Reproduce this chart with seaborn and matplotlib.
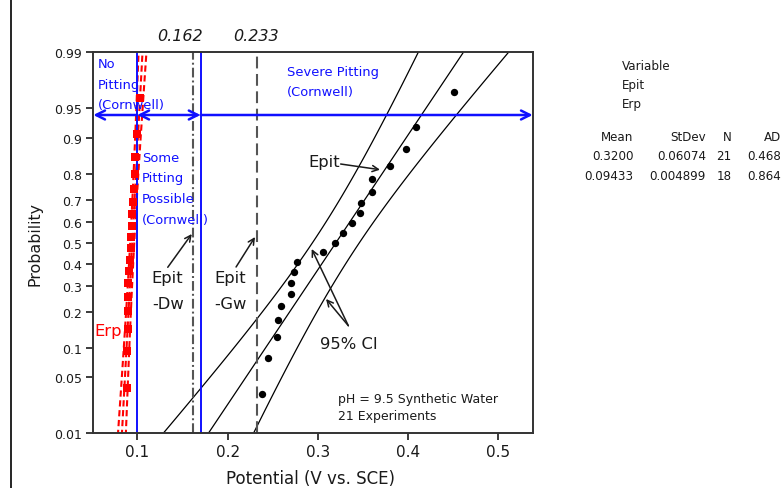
from statistics import NormalDist

import numpy as np
import pandas as pd
import matplotlib
matplotlib.use("Agg")
import matplotlib.pyplot as plt
from matplotlib.lines import Line2D
import seaborn as sns

# Ordered pitting potentials Epit (V vs. SCE), 21 experiments
epit_values = [0.238, 0.245, 0.2545, 0.256, 0.259, 0.270, 0.270, 0.2735, 0.277,
               0.306, 0.3187, 0.328, 0.338, 0.3465, 0.348, 0.3605, 0.3605,
               0.380, 0.398, 0.409, 0.4505]
# Ordered repassivation potentials Erp (V vs. SCE), 18 experiments
erp_values = [0.0885, 0.0888, 0.0892, 0.0894, 0.0896, 0.0900, 0.0908, 0.0922,
              0.0930, 0.0935, 0.0940, 0.0946, 0.0955, 0.0962, 0.0970, 0.0978,
              0.0998, 0.1024]

# Normal fit summary for each variable
variables = ["Epit", "Erp"]
means = [0.3200, 0.09433]
stdevs = [0.06074, 0.004899]
counts = [21, 18]
ad_values = [0.468, 0.864]

# Reference potentials
cornwell_limits = [0.10, 0.17]
epit_dw = 0.162
epit_gw = 0.233

prob_ticks = [0.01, 0.05, 0.1, 0.2, 0.3, 0.4, 0.5, 0.6, 0.7, 0.8, 0.9, 0.95, 0.99]
x_ticks = [0.1, 0.2, 0.3, 0.4, 0.5]

W, H = 782, 489
BLUE = "#1010ff"
INK = "#1a1a1a"
GREY = "#555555"

sns.set_theme(style="ticks")
plt.rcParams["font.family"] = ["DejaVu Sans"]
plt.rcParams["lines.scale_dashes"] = False

nd = NormalDist()


def zq(p):
    """Normal quantile: the probability axis is drawn in z units."""
    return nd.inv_cdf(p)


def plot_positions(n):
    # median-rank plotting positions
    return [zq((i - 0.3) / (n + 0.4)) for i in range(1, n + 1)]


fig = plt.figure(figsize=(W / 100, H / 100), dpi=100)
ax = fig.add_axes([93.3 / W, 1 - 434.3 / H, 439.4 / W, 381 / H])

# fitted lines with 95% confidence bands for the percentiles
zgrid = np.linspace(-2.6, 2.6, 81)
line_styles = {"Epit": dict(color="black", lw=0.9, linestyle="-"),
               "Erp": dict(color="red", lw=1.5, linestyle=(0, (4.5, 2.6)))}
for var, m, s, n in zip(variables, means, stdevs, counts):
    half = 1.96 * s * np.sqrt(1 / n + zgrid ** 2 / (2 * n))
    for curve in (m + s * zgrid, m + s * zgrid - half, m + s * zgrid + half):
        sns.lineplot(x=curve, y=zgrid, sort=False, estimator=None, ax=ax,
                     **line_styles[var])

pts = pd.DataFrame({
    "potential": epit_values + erp_values,
    "z": plot_positions(len(epit_values)) + plot_positions(len(erp_values)),
    "variable": ["Epit"] * len(epit_values) + ["Erp"] * len(erp_values),
})
sns.scatterplot(data=pts[pts.variable == "Erp"], x="potential", y="z",
                color="red", marker="s", s=40, linewidth=0, ax=ax, zorder=3)
sns.scatterplot(data=pts[pts.variable == "Epit"], x="potential", y="z",
                color="black", marker="o", s=28, linewidth=0, ax=ax, zorder=3)

# reference lines
for xv in cornwell_limits:
    ax.axvline(xv, color=BLUE, lw=1.4, zorder=2)
ax.axvline(epit_dw, color=GREY, lw=1.5, linestyle=(0, (7, 2.2, 1.4, 2.2)), zorder=2)
ax.axvline(epit_gw, color=GREY, lw=1.5, linestyle=(0, (8.5, 4)), zorder=2)

xlo, xhi = 0.0512, 0.5381
ax.set_xlim(xlo, xhi)
ax.set_ylim(zq(0.01), zq(0.99))

# region arrows
ya = zq(0.9407)
arrow_kw = dict(color=BLUE, lw=1.8, mutation_scale=16, shrinkA=0, shrinkB=0)
ax.annotate("", xy=(xlo, ya), xytext=(cornwell_limits[0], ya),
            arrowprops=dict(arrowstyle="->", **arrow_kw))
ax.annotate("", xy=(cornwell_limits[1], ya), xytext=(cornwell_limits[0], ya),
            arrowprops=dict(arrowstyle="<->", **arrow_kw))
ax.annotate("", xy=(xhi, ya), xytext=(cornwell_limits[1], ya),
            arrowprops=dict(arrowstyle="->", **arrow_kw))


def stack(x, p, lines, dy_px, **kw):
    for k, line in enumerate(lines):
        ax.annotate(line, xy=(x, zq(p)), xytext=(0, -k * dy_px * 0.72),
                    textcoords="offset points", ha="left", va="center", **kw)


blue_kw = dict(color=BLUE, fontsize=9.4)
stack(0.0561, 0.9855, ["No", "Pitting", "(Cornwell)"], 20.5, **blue_kw)
stack(0.1049, 0.8526, ["Some", "Pitting", "Possible", "(Cornwell)"], 20.7, **blue_kw)
stack(0.2655, 0.9817, ["Severe Pitting", "(Cornwell)"], 20.0, **blue_kw)

ink_kw = dict(color=INK, fontsize=11.8)
stack(0.1160, 0.3368, ["Epit", "-Dw"], 26.7, **ink_kw)
stack(0.1850, 0.3368, ["Epit", "-Gw"], 26.7, **ink_kw)
stack(0.2895, 0.839, ["Epit"], 0, **ink_kw)
stack(0.3024, 0.1083, ["95% CI"], 0, **ink_kw)
stack(0.0523, 0.1416, ["Erp"], 0, color="red", fontsize=11.8)
stack(0.3220, 0.0288, ["pH = 9.5 Synthetic Water", "21 Experiments"], 17.4,
      color=INK, fontsize=9)


def pointer(tip, tail):
    ax.annotate("", xy=(tip[0], zq(tip[1])), xytext=(tail[0], zq(tail[1])),
                arrowprops=dict(arrowstyle="->", color=INK, lw=1.1,
                                mutation_scale=11, shrinkA=0, shrinkB=0))


pointer((0.1603, 0.5428), (0.1337, 0.3824))
pointer((0.2304, 0.5282), (0.2094, 0.3838))
pointer((0.3689, 0.814), (0.3253, 0.832))
pointer((0.2932, 0.4698), (0.3338, 0.1557))
pointer((0.3091, 0.2463), (0.3338, 0.1557))

# values of the reference potentials above the frame
for xv, xc in ((epit_dw, 0.1473), (epit_gw, 0.2315)):
    ax.text(xc, 1.0428, f"{xv:.3f}", transform=ax.get_xaxis_transform(),
            ha="center", va="center", fontsize=11.5, style="italic", color=INK)

# axes styling
ax.set_xticks(x_ticks)
ax.set_xticklabels([f"{v:g}" for v in x_ticks])
ax.set_yticks([zq(p) for p in prob_ticks])
ax.set_yticklabels([f"{p:g}" for p in prob_ticks])
ax.tick_params(axis="x", labelsize=11, length=5, width=1.2, pad=3, colors=INK)
ax.tick_params(axis="y", labelsize=9, length=5, width=1.2, pad=3, colors=INK)
for sp in ax.spines.values():
    sp.set_visible(True)
    sp.set_color("#333333")
    sp.set_linewidth(1.4)
ax.set_xlabel("Potential (V vs. SCE)", fontsize=12, color=INK)
ax.set_ylabel("Probability", fontsize=11.4, color=INK)
ax.xaxis.set_label_coords(0.4939, -0.1173)
ax.xaxis.label.set_va("center")
ax.yaxis.set_label_coords(-0.1327, 0.5)
ax.yaxis.label.set_va("center")

# summary table to the right of the plot
tkw = dict(fontsize=8.6, color=INK, va="center")
fig.text(621.7 / W, 1 - 67 / H, "Variable", ha="left", **tkw)
fig.text(621.7 / W, 1 - 85.5 / H, variables[0], ha="left", **tkw)
fig.text(621.7 / W, 1 - 104.5 / H, variables[1], ha="left", **tkw)
col_right = [633.3, 706.0, 731.7, 781.0]
for cx, head in zip(col_right, ["Mean", "StDev", "N", "AD"]):
    fig.text(cx / W, 1 - 138 / H, head, ha="right", **tkw)


def sig4(v):
    return np.format_float_positional(v, precision=4, unique=False, fractional=False)


for row, (m, s, n, ad) in enumerate(zip(means, stdevs, counts, ad_values)):
    y = 1 - (156.5 + 19.5 * row) / H
    for cx, val in zip(col_right, [sig4(m), sig4(s), str(n), f"{ad:.3f}"]):
        fig.text(cx / W, y, val, ha="right", **tkw)

# page rule on the left
fig.add_artist(Line2D([10.5 / W, 10.5 / W], [0, 1], transform=fig.transFigure,
                      color="black", lw=1.2))

fig.savefig("out.png", dpi=100)
